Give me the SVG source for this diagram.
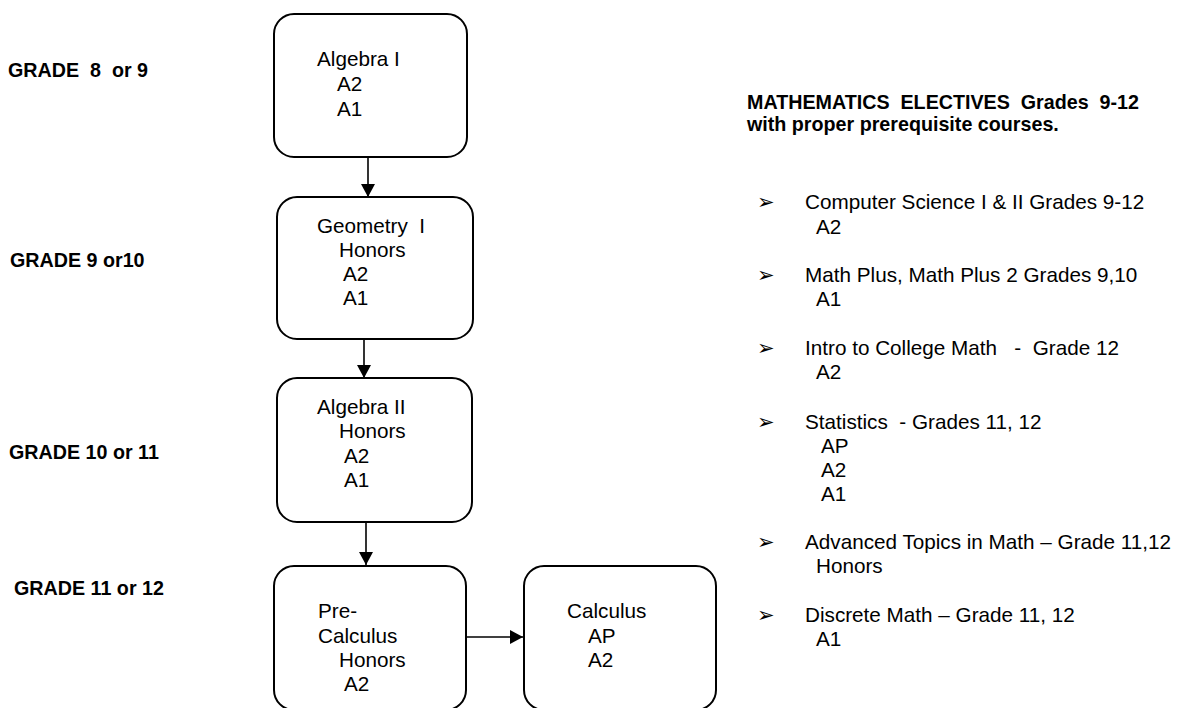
<svg xmlns="http://www.w3.org/2000/svg" width="1189" height="708" viewBox="0 0 1189 708">
<style>
text{font-family:"Liberation Sans",Arial,sans-serif;fill:#000;white-space:pre}
.t{font-size:20.7px}
.b{font-size:19.7px;font-weight:bold}
.box{fill:#fff;stroke:#000;stroke-width:2}
.con{stroke:#000;stroke-width:1.6;fill:none}
.bul{font-family:"DejaVu Sans",sans-serif;font-size:21px}
</style>
<defs>
<marker id="ah" markerUnits="userSpaceOnUse" markerWidth="14" markerHeight="14" refX="13" refY="7" orient="auto">
<path d="M0,0 L13,7 L0,14 z" fill="#000"/>
</marker>
</defs>
<rect width="1189" height="708" fill="#fff"/>

<g id="grade-labels">
<text class="b" x="8" y="77">GRADE  8  or 9</text>
<text class="b" x="10" y="267">GRADE 9 or10</text>
<text class="b" x="9" y="459">GRADE 10 or 11</text>
<text class="b" x="14" y="595">GRADE 11 or 12</text>
</g>

<g id="connectors">
<line class="con" x1="368" y1="157" x2="368" y2="197" marker-end="url(#ah)"/>
<line class="con" x1="364" y1="334" x2="364" y2="378" marker-end="url(#ah)"/>
<line class="con" x1="366" y1="522" x2="366" y2="565" marker-end="url(#ah)"/>
<line class="con" x1="467" y1="637" x2="523" y2="637" marker-end="url(#ah)"/>
</g>

<g id="algebra1">
<rect class="box" x="274" y="14" width="193" height="143" rx="20"/>
<text class="t" x="317" y="66">Algebra I</text>
<text class="t" x="337" y="91">A2</text>
<text class="t" x="337" y="116">A1</text>
</g>

<g id="geometry">
<rect class="box" x="277" y="197" width="196" height="142" rx="20"/>
<text class="t" x="317" y="233">Geometry  I</text>
<text class="t" x="339" y="257">Honors</text>
<text class="t" x="343" y="281">A2</text>
<text class="t" x="343" y="305">A1</text>
</g>

<g id="algebra2">
<rect class="box" x="277" y="378" width="195" height="144" rx="20"/>
<text class="t" x="317" y="414">Algebra II</text>
<text class="t" x="339" y="438">Honors</text>
<text class="t" x="344" y="463">A2</text>
<text class="t" x="344" y="487">A1</text>
</g>

<g id="precalculus">
<rect class="box" x="274" y="566" width="192" height="144" rx="20"/>
<text class="t" x="318" y="618">Pre-</text>
<text class="t" x="318" y="643">Calculus</text>
<text class="t" x="339" y="667">Honors</text>
<text class="t" x="344" y="691">A2</text>
</g>

<g id="calculus">
<rect class="box" x="524" y="566" width="192" height="144" rx="20"/>
<text class="t" x="567" y="618">Calculus</text>
<text class="t" x="588" y="643">AP</text>
<text class="t" x="588" y="667">A2</text>
</g>

<g id="electives">
<text class="b" x="747" y="109">MATHEMATICS  ELECTIVES  Grades  9-12</text>
<text class="b" x="747" y="131">with proper prerequisite courses.</text>

<text class="bul" x="757" y="209">➢</text>
<text class="t" x="805" y="209">Computer Science I &amp; II Grades 9-12</text>
<text class="t" x="816" y="234">A2</text>

<text class="bul" x="757" y="282">➢</text>
<text class="t" x="805" y="282">Math Plus, Math Plus 2 Grades 9,10</text>
<text class="t" x="816" y="306">A1</text>

<text class="bul" x="757" y="355">➢</text>
<text class="t" x="805" y="355">Intro to College Math   -  Grade 12</text>
<text class="t" x="816" y="379">A2</text>

<text class="bul" x="757" y="429">➢</text>
<text class="t" x="805" y="429">Statistics  - Grades 11, 12</text>
<text class="t" x="821" y="453">AP</text>
<text class="t" x="821" y="477">A2</text>
<text class="t" x="821" y="501">A1</text>

<text class="bul" x="757" y="549">➢</text>
<text class="t" x="805" y="549">Advanced Topics in Math – Grade 11,12</text>
<text class="t" x="816" y="573">Honors</text>

<text class="bul" x="757" y="622">➢</text>
<text class="t" x="805" y="622">Discrete Math – Grade 11, 12</text>
<text class="t" x="816" y="646">A1</text>
</g>
</svg>
